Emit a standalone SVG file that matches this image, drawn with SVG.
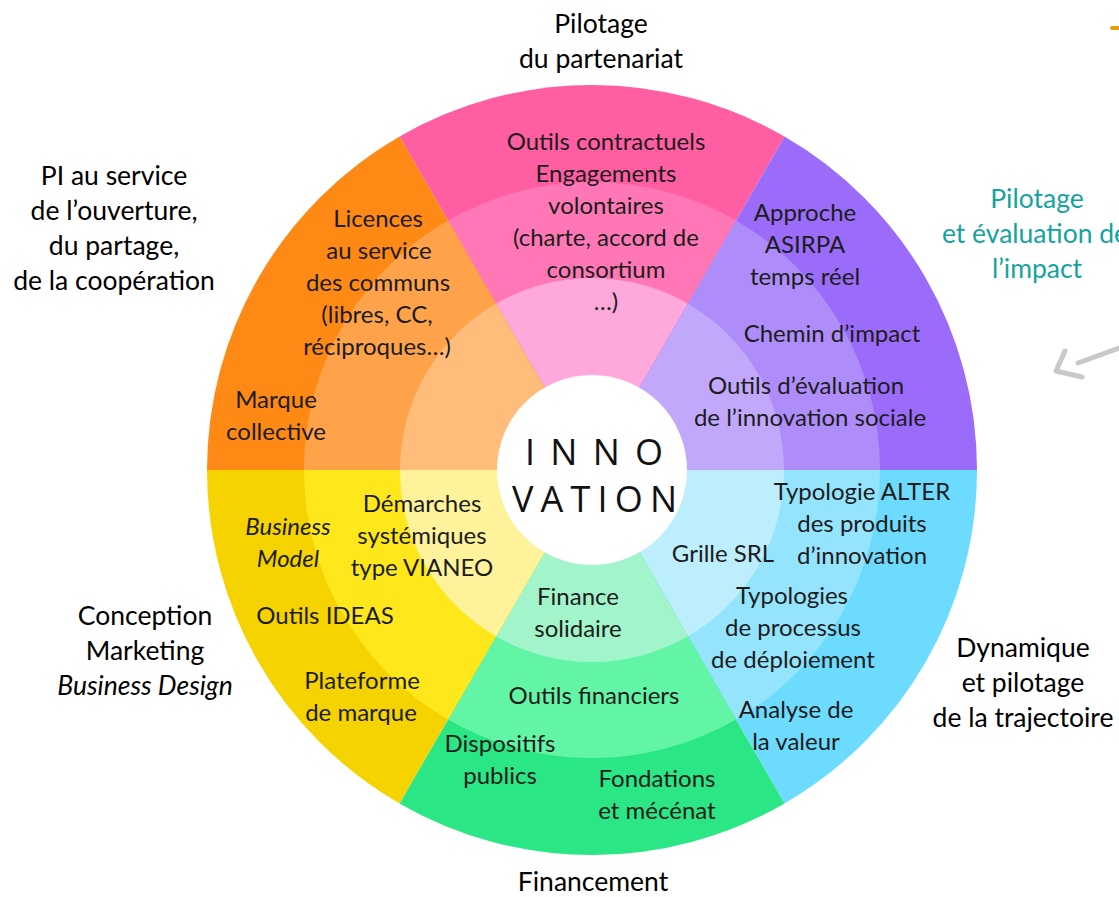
<svg xmlns="http://www.w3.org/2000/svg" width="1119" height="897" viewBox="0 0 1119 897">
<style>
.t{font-family:Lato,"Liberation Sans",sans-serif;font-size:24px;fill:#1c1c1c;text-anchor:middle}
.h{font-family:Lato,"Liberation Sans",sans-serif;font-size:26.5px;fill:#000;text-anchor:middle}
.i{font-style:italic}
.teal{fill:#14A3A0}
.c{font-family:"Open Sans",Lato,sans-serif;font-size:36px;fill:#111;text-anchor:middle}
.arw{fill:none;stroke:#C9C9C9;stroke-width:5;stroke-linecap:round;stroke-linejoin:round}
</style>
<rect width="1119" height="897" fill="#fff"/>
<g id="seg-pilotage-partenariat">
<path d="M592 470 L399.5 136.58 A385 385 0 0 1 784.5 136.58 Z" fill="#FF5EA2"/>
<path d="M592 470 L448 220.58 A288 288 0 0 1 736 220.58 Z" fill="#FF78B5"/>
<path d="M592 470 L496 303.72 A192 192 0 0 1 688 303.72 Z" fill="#FFA8DB"/>
<text class="t" x="606" y="150">Outils contractuels</text>
<text class="t" x="606" y="182">Engagements</text>
<text class="t" x="606" y="214">volontaires</text>
<text class="t" x="606" y="246">(charte, accord de</text>
<text class="t" x="606" y="278">consortium</text>
<text class="t" x="606" y="310">…)</text>
</g>
<g id="seg-impact">
<path d="M592 470 L784.5 136.58 A385 385 0 0 1 977 470 Z" fill="#9B6CF9"/>
<path d="M592 470 L736 220.58 A288 288 0 0 1 880 470 Z" fill="#AE8DFA"/>
<path d="M592 470 L688 303.72 A192 192 0 0 1 784 470 Z" fill="#C2A8FB"/>
<text class="t" x="805" y="221">Approche</text>
<text class="t" x="805" y="253">ASIRPA</text>
<text class="t" x="805" y="285">temps réel</text>
<text class="t" x="832" y="342">Chemin d’impact</text>
<text class="t" x="806" y="394">Outils d’évaluation</text>
<text class="t" x="810" y="426">de l’innovation sociale</text>
</g>
<g id="seg-trajectoire">
<path d="M592 470 L977 470 A385 385 0 0 1 784.5 803.42 Z" fill="#6DDBFE"/>
<path d="M592 470 L880 470 A288 288 0 0 1 736 719.42 Z" fill="#94E4FE"/>
<path d="M592 470 L784 470 A192 192 0 0 1 688 636.28 Z" fill="#BDEEFE"/>
<text class="t" x="862" y="500">Typologie ALTER</text>
<text class="t" x="862" y="532">des produits</text>
<text class="t" x="862" y="564">d’innovation</text>
<text class="t" x="723" y="562">Grille SRL</text>
<text class="t" x="792" y="604">Typologies</text>
<text class="t" x="793" y="636">de processus</text>
<text class="t" x="793" y="668">de déploiement</text>
<text class="t" x="796" y="718">Analyse de</text>
<text class="t" x="796" y="750">la valeur</text>
</g>
<g id="seg-financement">
<path d="M592 470 L784.5 803.42 A385 385 0 0 1 399.5 803.42 Z" fill="#2AE684"/>
<path d="M592 470 L736 719.42 A288 288 0 0 1 448 719.42 Z" fill="#62F5A6"/>
<path d="M592 470 L688 636.28 A192 192 0 0 1 496 636.28 Z" fill="#A2F5CA"/>
<text class="t" x="578" y="605">Finance</text>
<text class="t" x="578" y="637">solidaire</text>
<text class="t" x="594" y="704">Outils financiers</text>
<text class="t" x="500" y="752">Dispositifs</text>
<text class="t" x="500" y="784">publics</text>
<text class="t" x="657" y="787">Fondations</text>
<text class="t" x="657" y="819">et mécénat</text>
</g>
<g id="seg-conception">
<path d="M592 470 L399.5 803.42 A385 385 0 0 1 207 470 Z" fill="#F5D300"/>
<path d="M592 470 L448 719.42 A288 288 0 0 1 304 470 Z" fill="#FEE81C"/>
<path d="M592 470 L496 636.28 A192 192 0 0 1 400 470 Z" fill="#FEF39A"/>
<text class="t i" x="288" y="535">Business</text>
<text class="t i" x="288" y="567">Model</text>
<text class="t" x="422" y="512">Démarches</text>
<text class="t" x="422" y="544">systémiques</text>
<text class="t" x="422" y="576">type VIANEO</text>
<text class="t" x="325" y="624">Outils IDEAS</text>
<text class="t" x="362" y="689">Plateforme</text>
<text class="t" x="361" y="721">de marque</text>
</g>
<g id="seg-pi">
<path d="M592 470 L207 470 A385 385 0 0 1 399.5 136.58 Z" fill="#FE8A15"/>
<path d="M592 470 L304 470 A288 288 0 0 1 448 220.58 Z" fill="#FFA34B"/>
<path d="M592 470 L400 470 A192 192 0 0 1 496 303.72 Z" fill="#FFBC7B"/>
<text class="t" x="378" y="227">Licences</text>
<text class="t" x="379" y="259">au service</text>
<text class="t" x="378" y="291">des communs</text>
<text class="t" x="377" y="323">(libres, CC,</text>
<text class="t" x="377" y="355">réciproques…)</text>
<text class="t" x="276" y="408">Marque</text>
<text class="t" x="276" y="440">collective</text>
</g>
<g id="center">
<circle cx="592" cy="470" r="95" fill="#fff"/>
<text class="c" x="594" y="465" textLength="138" lengthAdjust="spacing">INNO</text>
<text class="c" x="594.5" y="512" textLength="165" lengthAdjust="spacing">VATION</text>
</g>
<g id="title-partenariat">
<text class="h" x="601" y="33">Pilotage</text>
<text class="h" x="601" y="68">du partenariat</text>
</g>
<g id="title-pi">
<text class="h" x="114" y="185">PI au service</text>
<text class="h" x="114" y="220">de l’ouverture,</text>
<text class="h" x="114" y="255">du partage,</text>
<text class="h" x="114" y="290">de la coopération</text>
</g>
<g id="title-impact">
<text class="h teal" x="1037" y="208">Pilotage</text>
<text class="h teal" x="1035" y="243">et évaluation de</text>
<text class="h teal" x="1037" y="278">l’impact</text>
</g>
<g id="title-conception">
<text class="h" x="145" y="625">Conception</text>
<text class="h" x="145" y="660">Marketing</text>
<text class="h i" x="145" y="695">Business Design</text>
</g>
<g id="title-trajectoire">
<text class="h" x="1023" y="657">Dynamique</text>
<text class="h" x="1023" y="692">et pilotage</text>
<text class="h" x="1023" y="727">de la trajectoire</text>
</g>
<g id="title-financement">
<text class="h" x="593" y="891">Financement</text>
</g>
<g id="connectors">
<path class="arw" d="M1078 363 L1119 348"/>
<path class="arw" d="M1065 351 L1056 371 L1082 377"/>
<path d="M1112 28 L1119 28" stroke="#E0A010" stroke-width="4" stroke-linecap="round"/>
</g>
</svg>
